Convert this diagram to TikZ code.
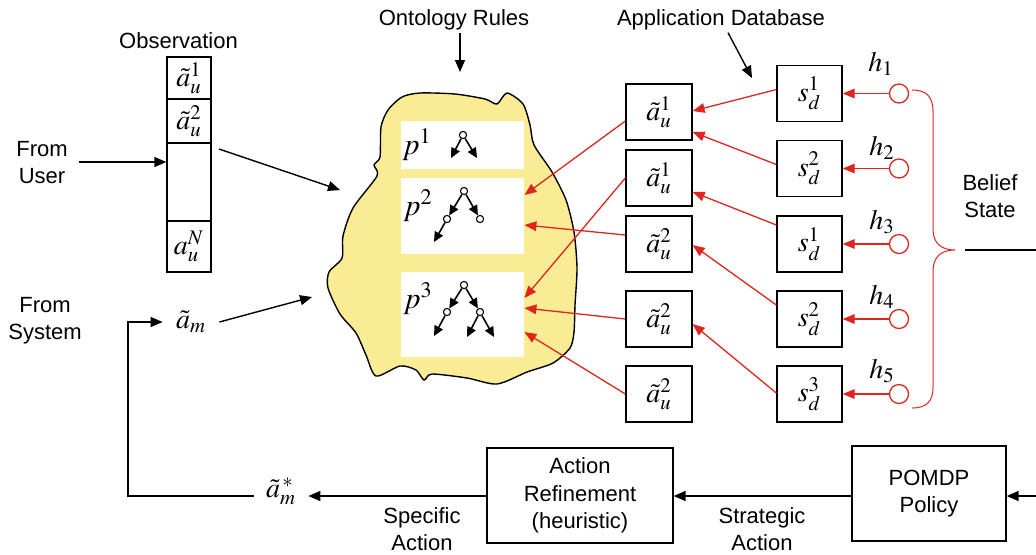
\documentclass[tikz,border=0pt]{standalone}
\usepackage{mathptmx}
\usepackage[no-math]{fontspec}
\newfontfamily\arial{Liberation Sans}
\usetikzlibrary{arrows.meta,calc}
\definecolor{dred}{RGB}{222,38,30}
\definecolor{blobyellow}{RGB}{250,236,148}
\begin{document}
\begin{tikzpicture}[x=0.5pt,y=-0.5pt,
  lab/.style={font=\arial\fontsize{11}{13.5}\selectfont, align=center, inner sep=1pt},
  mth/.style={font=\fontsize{14}{16}\selectfont, inner sep=0pt},
  plab/.style={font=\fontsize{15}{17}\selectfont, inner sep=0pt},
  arr/.style={line width=0.7pt, -{Triangle[length=6pt,width=5pt]}},
  rarr/.style={draw=dred, line width=0.65pt, -{Triangle[length=6pt,width=4.8pt]}},
  box/.style={draw, line width=0.65pt, minimum width=33pt, minimum height=28pt, inner sep=0pt, font=\fontsize{14}{16}\selectfont},
  cell/.style={draw, line width=0.65pt, minimum width=22pt, inner sep=0pt, font=\fontsize{14}{16}\selectfont},
  wbox/.style={fill=white, inner sep=0pt, minimum width=61.5pt},
  tn/.style={circle, draw, fill=white, line width=0.55pt, minimum size=3.6pt, inner sep=0pt},
  tarr/.style={line width=0.8pt, -{Triangle[length=5pt,width=4.6pt]}},
  hc/.style={circle, draw=dred, line width=0.65pt, minimum size=9.5pt, inner sep=0pt},
  bigbox/.style={draw, line width=0.65pt, align=center, font=\arial\fontsize{11}{13.75}\selectfont, inner sep=0pt},
]
\useasboundingbox (0,0) rectangle (1036,554);

% ---------- Observation column ----------
\node[lab] (obs) at (178.5,41) {Observation};
\node[cell, minimum height=21pt] (o1) at (189,78) {$\tilde a_u^{1}$};
\node[cell, minimum height=22pt] (o2) at (189,121) {$\tilde a_u^{2}$};
\node[cell, minimum height=39pt] (o3) at (189,182) {};
\node[cell, minimum height=25.5pt] (o4) at (189,246.5) {$a_u^{N}$};

\node[lab] (fromuser) at (42,163) {From\\User};
\coordinate (fu) at (79,162);
\draw[arr] (fu) -- (fu -| o3.west);

\node[lab] (fromsys) at (45,321) {From\\System};

% ---------- Ontology blob ----------
\draw[fill=blobyellow, line width=0.7pt] plot[smooth cycle, tension=0.45] coordinates {
 (402,97) (420,93) (455,94) (485,99) (497,104) (507,93) (523,104) (530,125) (534,145)
 (552,172) (566,200) (574,232) (577,268) (575,305) (574,332) (570,348) (553,363)
 (527,372) (497,384) (467,378) (432,374) (424,380) (416,370) (400,366) (376,376)
 (366,355) (356,333) (340,314) (328,288) (329,272) (342,258) (343,236) (353,208)
 (377,176) (374,165) (380,157) (381,127) (388,110)};
\coordinate (blobU) at (460,72);
\coordinate (blobO) at (340,190);
\coordinate (blobS) at (312,297);

\node[wbox, minimum height=24pt] (p1) at (462.5,145) {};
\node[wbox, minimum height=38pt] (p2) at (462.5,216) {};
\node[wbox, minimum height=42.5pt] (p3) at (462.5,314.5) {};
\node[plab] (pl1) at (417,145) {$p^{1}$};
\node[plab] (pl2) at (418,206) {$p^{2}$};
\node[plab] (pl3) at (418,299) {$p^{3}$};

% trees
\node[tn] (r1) at (463,135) {};
\coordinate (l1a) at (451,158); \coordinate (l1b) at (477,158);
\draw[tarr] (r1) -- (l1a); \draw[tarr] (r1) -- (l1b);

\node[tn] (r2) at (464,191) {};
\node[tn] (c2a) at (447,219) {};
\node[tn] (c2b) at (480,219) {};
\coordinate (l2a) at (434,242);
\draw[tarr] (r2) -- (c2a); \draw[tarr] (r2) -- (c2b); \draw[tarr] (c2a) -- (l2a);

\node[tn] (r3) at (464,285) {};
\node[tn] (c3a) at (447,312) {};
\node[tn] (c3b) at (480,312) {};
\coordinate (l3a) at (434,336); \coordinate (l3b) at (467,337); \coordinate (l3c) at (494,337);
\draw[tarr] (r3) -- (c3a); \draw[tarr] (r3) -- (c3b);
\draw[tarr] (c3a) -- (l3a); \draw[tarr] (c3b) -- (l3b); \draw[tarr] (c3b) -- (l3c);

% inputs to blob
\node[lab] (ont) at (454,20) {Ontology Rules};
\draw[arr] (ont.south -| blobU) -- (blobU);
\draw[arr] (219,149) -- (blobO);
\node[mth, inner xsep=6.5pt] (am) at (191,322) {$\tilde a_m$};
\draw[arr] (am.east) -- (blobS);

% ---------- Database ----------
\node[lab] (app) at (721,20) {Application Database};
\coordinate (appT) at (752,78);
\draw[arr] ([xshift=3.5pt]app.south) -- (appT);

\node[box] (a1) at (659,112) {$\tilde a_u^{1}$};
\node[box] (a2) at (659,178) {$\tilde a_u^{1}$};
\node[box] (a3) at (659,244) {$\tilde a_u^{2}$};
\node[box] (a4) at (659,319) {$\tilde a_u^{2}$};
\node[box] (a5) at (659,394) {$\tilde a_u^{2}$};

\node[box, minimum width=32.5pt] (s1) at (809.5,93.5) {$s_d^{1}$};
\node[box, minimum width=32.5pt] (s2) at (809.5,168.5) {$s_d^{2}$};
\node[box, minimum width=32.5pt] (s3) at (809.5,244) {$s_d^{1}$};
\node[box, minimum width=32.5pt] (s4) at (809.5,319) {$s_d^{2}$};
\node[box, minimum width=32.5pt] (s5) at (809.5,394) {$s_d^{3}$};

\draw[rarr] ([yshift=2pt]s1.west) -- ([yshift=0.5pt]a1.east);
\draw[rarr] ([yshift=2pt]s2.west) -- ([yshift=-10pt]a1.east);
\draw[rarr] ([yshift=9.5pt]s3.west) -- ([yshift=-7pt]a2.east);
\draw[rarr] ([yshift=7pt]s4.west) -- ([yshift=-0.5pt]a3.east);
\draw[rarr] ([yshift=0.5pt]s5.west) -- ([yshift=-2.5pt]a4.east);

\draw[rarr] ([yshift=-4.5pt]a1.west) -- ([yshift=10.5pt]p2.east);
\draw[rarr] (a2.west) -- ([yshift=8.25pt]p3.east);
\draw[rarr] ([yshift=4.5pt]a3.west) -- ([yshift=-4.5pt]p2.east);
\draw[rarr] (a4.west) -- ([yshift=3.25pt]p3.east);
\draw[rarr] (a5.west) -- ([yshift=-8.75pt]p3.east);

% ---------- hypotheses ----------
\node[hc] (h1) at (899,93.5) {};
\node[hc] (h2) at (899,168.5) {};
\node[hc] (h3) at (899,244) {};
\node[hc] (h4) at (899,319) {};
\node[hc] (h5) at (899,394) {};
\draw[rarr] (h1) -- (s1); \draw[rarr] (h2) -- (s2); \draw[rarr] (h3) -- (s3);
\draw[rarr] (h4) -- (s4); \draw[rarr] (h5) -- (s5);
\node[mth] (hl1) at (881,64) {$h_1$};
\node[mth] (hl2) at (882,148) {$h_2$};
\node[mth] (hl3) at (882,222) {$h_3$};
\node[mth] (hl4) at (882,297) {$h_4$};
\node[mth] (hl5) at (882,371) {$h_5$};

\draw[dred, line width=0.5pt] (912,90) .. controls (927,90) and (933,97) .. (933,112)
  -- (933,229) .. controls (933,243) and (941,250) .. (955,250)
  .. controls (941,250) and (933,257) .. (933,271)
  -- (933,387) .. controls (933,401) and (927,408) .. (912,408);
\coordinate (braceTip) at (965,250);
\coordinate (rightE) at (1036,250);
\draw[line width=0.7pt] (braceTip) -- (rightE);
\node[lab] (belief) at (990,196) {Belief\\State};

% ---------- bottom ----------
\node[bigbox, minimum width=93pt, minimum height=47.5pt] (act) at (580,495.5) {Action\\Refinement\\(heuristic)};
\node[bigbox, minimum width=77pt, minimum height=47.5pt] (pol) at (929,493.5) {POMDP\\Policy};
\coordinate (rin) at (1036,496);
\draw[arr] (rin) -- (rin -| pol.east);
\draw[arr] (pol.west |- 0,496) -- (act.east |- 0,496);
\node[lab] (strat) at (762,529) {Strategic\\Action};
\node[mth, inner xsep=6pt] (amstar) at (281,491) {$\tilde a_m^{\,*}$};
\draw[arr] (act.west |- 0,496) -- (amstar.east |- 0,496);
\node[lab] (spec) at (422,529) {Specific\\Action};
\draw[line width=0.7pt, -{Triangle[length=6pt,width=5pt]}] (amstar.west |- 0,496) -- (128,496) |- (am.west);
\end{tikzpicture}
\end{document}
